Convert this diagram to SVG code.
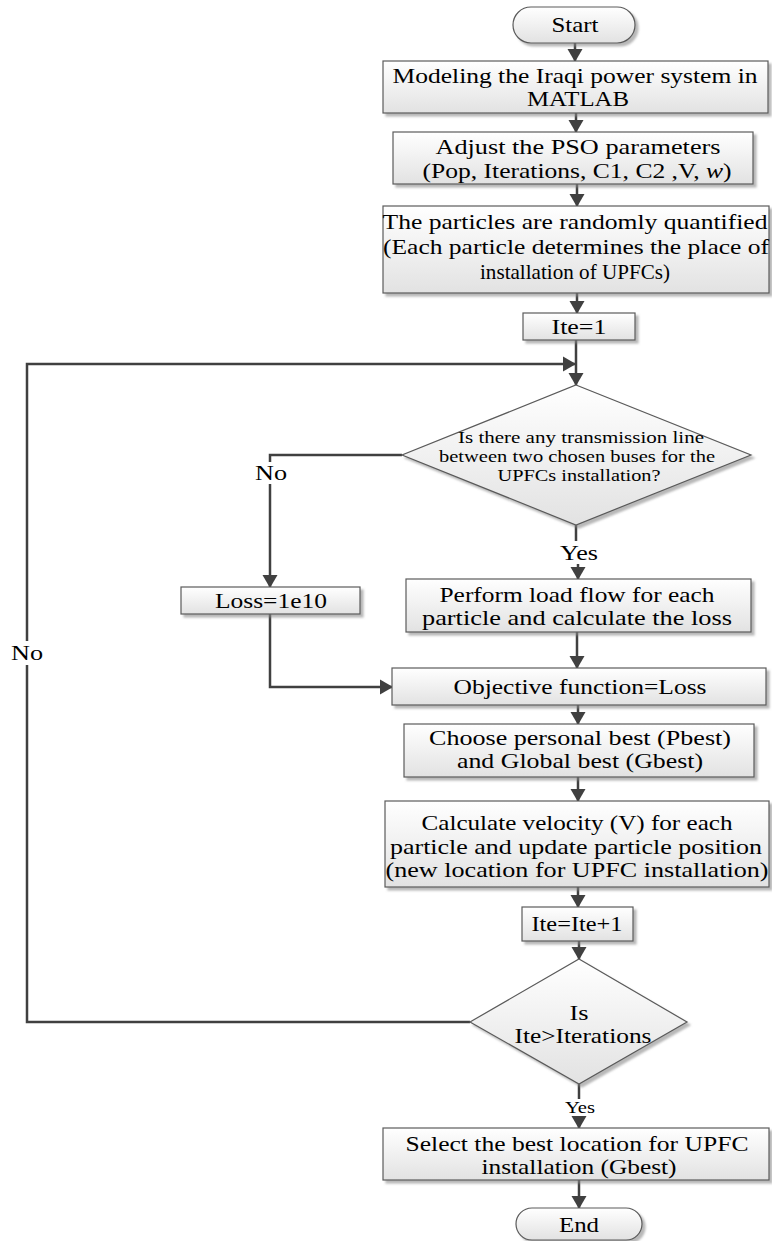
<svg xmlns="http://www.w3.org/2000/svg" width="772" height="1241" viewBox="0 0 772 1241">
<style>
  .box { fill: url(#g); stroke: #5a5a5a; stroke-width: 1.2; filter: url(#sh); }
  .dia { fill: url(#g); stroke: #5a5a5a; stroke-width: 1.2; filter: url(#sh); }
  .t { font-family: "Liberation Serif", "Times New Roman", serif; font-size: 21px; fill: #000; text-anchor: middle; }
  .td { font-family: "Liberation Serif", "Times New Roman", serif; font-size: 17px; fill: #000; text-anchor: middle; }
  .ts { font-family: "Liberation Serif", "Times New Roman", serif; font-size: 16px; fill: #000; text-anchor: middle; }
  .c { fill: none; stroke: #404040; stroke-width: 2.5; }
  .ca { fill: none; stroke: #404040; stroke-width: 2.5; marker-end: url(#ah); }
</style>
<defs>
  <linearGradient id="g" x1="0" y1="0" x2="0" y2="1">
    <stop offset="0" stop-color="#ffffff"/>
    <stop offset="1" stop-color="#e2e2e2"/>
  </linearGradient>
  <filter id="sh" x="-5%" y="-10%" width="115%" height="130%">
    <feDropShadow dx="3" dy="3" stdDeviation="1.2" flood-color="#888888" flood-opacity="0.6"/>
  </filter>
  <marker id="ah" markerUnits="userSpaceOnUse" markerWidth="14" markerHeight="16" refX="12" refY="8" orient="auto">
    <path d="M0,0.5 L13,8 L0,15.5 z" fill="#404040"/>
  </marker>
</defs>
<rect width="772" height="1241" fill="#ffffff"/>

<g id="connectors">
  <path class="ca" d="M575,43 V61"/>
  <path class="ca" d="M576,113 V132"/>
  <path class="ca" d="M577,184 V206"/>
  <path class="ca" d="M577,293 V313"/>
  <path class="ca" d="M576,340 V385"/>
  <path class="ca" d="M470,1022 H27 V665 M27,641 V364 H575"/>
  <path class="c" d="M402,455 H270 V462"/>
  <path class="ca" d="M270,484 V587"/>
  <path class="c" d="M576,525 V541"/>
  <path class="ca" d="M578,564 V579"/>
  <path class="ca" d="M577,632 V668"/>
  <path class="ca" d="M270,614 V687 H392"/>
  <path class="ca" d="M578,705 V724"/>
  <path class="ca" d="M578,777 V801"/>
  <path class="ca" d="M578,887 V907"/>
  <path class="ca" d="M579,941 V959"/>
  <path class="c" d="M579,1084 V1099"/>
  <path class="ca" d="M579,1116 V1128"/>
  <path class="ca" d="M579,1180 V1208"/>
</g>

<g id="start">
  <rect class="box" x="513" y="7" width="122" height="36" rx="18" ry="18"/>
  <text class="t" x="575" y="32" textLength="47" lengthAdjust="spacingAndGlyphs">Start</text>
</g>

<g id="model">
  <rect class="box" x="383" y="61" width="385" height="52"/>
  <text class="t" x="575" y="83" textLength="365" lengthAdjust="spacingAndGlyphs">Modeling the Iraqi power system in</text>
  <text class="t" x="578" y="106" textLength="102" lengthAdjust="spacingAndGlyphs">MATLAB</text>
</g>

<g id="pso">
  <rect class="box" x="393" y="132" width="360" height="52"/>
  <text class="t" x="578" y="154" textLength="285" lengthAdjust="spacingAndGlyphs">Adjust the PSO parameters</text>
  <text class="t" x="577" y="178" textLength="309" lengthAdjust="spacingAndGlyphs">(Pop, Iterations, C1, C2 ,V, <tspan font-style="italic">w</tspan>)</text>
</g>

<g id="particles">
  <rect class="box" x="383" y="206" width="386" height="87"/>
  <text class="t" x="575" y="229" textLength="385" lengthAdjust="spacingAndGlyphs">The particles are randomly quantified</text>
  <text class="t" x="576" y="254" textLength="386" lengthAdjust="spacingAndGlyphs">(Each particle determines the place of</text>
  <text class="t" x="575" y="279" textLength="190" lengthAdjust="spacingAndGlyphs">installation of UPFCs)</text>
</g>

<g id="ite1">
  <rect class="box" x="523" y="313" width="112" height="27"/>
  <text class="t" x="579" y="334" textLength="55" lengthAdjust="spacingAndGlyphs">Ite=1</text>
</g>

<g id="decision1">
  <polygon class="dia" points="576,385 751,455 576,525 402,455"/>
  <text class="td" x="581" y="443" textLength="246" lengthAdjust="spacingAndGlyphs">Is there any transmission line</text>
  <text class="td" x="577" y="462" textLength="276" lengthAdjust="spacingAndGlyphs">between two chosen buses for the</text>
  <text class="td" x="579" y="481" textLength="163" lengthAdjust="spacingAndGlyphs">UPFCs installation?</text>
</g>

<g id="labels">
  <text class="t" x="271" y="480" textLength="32" lengthAdjust="spacingAndGlyphs">No</text>
  <text class="t" x="579" y="560" textLength="38" lengthAdjust="spacingAndGlyphs">Yes</text>
  <text class="t" x="27" y="660" textLength="32" lengthAdjust="spacingAndGlyphs">No</text>
  <text class="ts" x="580" y="1113" textLength="30" lengthAdjust="spacingAndGlyphs">Yes</text>
</g>

<g id="loss">
  <rect class="box" x="181" y="587" width="179" height="27"/>
  <text class="t" x="271" y="608" textLength="112" lengthAdjust="spacingAndGlyphs">Loss=1e10</text>
</g>

<g id="loadflow">
  <rect class="box" x="406" y="579" width="345" height="53"/>
  <text class="t" x="577" y="602" textLength="275" lengthAdjust="spacingAndGlyphs">Perform load flow for each</text>
  <text class="t" x="577" y="625" textLength="310" lengthAdjust="spacingAndGlyphs">particle and calculate the loss</text>
</g>

<g id="objective">
  <rect class="box" x="392" y="668" width="374" height="37"/>
  <text class="t" x="580" y="694" textLength="253" lengthAdjust="spacingAndGlyphs">Objective function=Loss</text>
</g>

<g id="best">
  <rect class="box" x="404" y="724" width="350" height="53"/>
  <text class="t" x="580" y="745" textLength="302" lengthAdjust="spacingAndGlyphs">Choose personal best (Pbest)</text>
  <text class="t" x="580" y="768" textLength="246" lengthAdjust="spacingAndGlyphs">and Global best (Gbest)</text>
</g>

<g id="velocity">
  <rect class="box" x="385" y="801" width="384" height="86"/>
  <text class="t" x="577" y="830" textLength="311" lengthAdjust="spacingAndGlyphs">Calculate velocity (V) for each</text>
  <text class="t" x="576" y="854" textLength="372" lengthAdjust="spacingAndGlyphs">particle and update particle position</text>
  <text class="t" x="577" y="877" textLength="383" lengthAdjust="spacingAndGlyphs">(new location for UPFC installation)</text>
</g>

<g id="iteinc">
  <rect class="box" x="522" y="907" width="111" height="34"/>
  <text class="t" x="577" y="931" textLength="91" lengthAdjust="spacingAndGlyphs">Ite=Ite+1</text>
</g>

<g id="decision2">
  <polygon class="dia" points="579,959 687,1022 579,1084 470,1022"/>
  <text class="t" x="579" y="1020" textLength="19" lengthAdjust="spacingAndGlyphs">Is</text>
  <text class="t" x="583" y="1043" textLength="137" lengthAdjust="spacingAndGlyphs">Ite&gt;Iterations</text>
</g>

<g id="select">
  <rect class="box" x="383" y="1128" width="386" height="52"/>
  <text class="t" x="577" y="1151" textLength="343" lengthAdjust="spacingAndGlyphs">Select the best location for UPFC</text>
  <text class="t" x="579" y="1174" textLength="195" lengthAdjust="spacingAndGlyphs">installation (Gbest)</text>
</g>

<g id="end">
  <rect class="box" x="516" y="1208" width="126" height="32" rx="16" ry="16"/>
  <text class="t" x="579" y="1232" textLength="40" lengthAdjust="spacingAndGlyphs">End</text>
</g>
</svg>
